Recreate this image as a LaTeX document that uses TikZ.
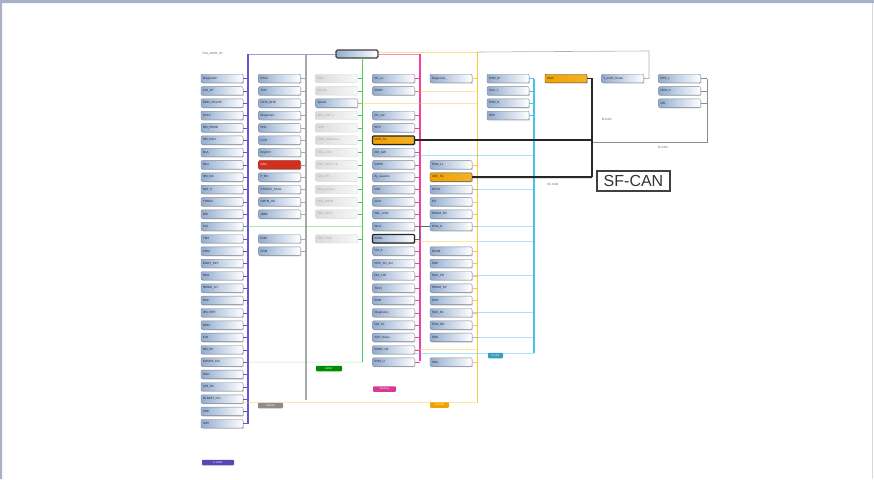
\documentclass[tikz,border=0pt]{standalone}
\usepackage{fontspec}
\setmainfont{Liberation Sans}
\usetikzlibrary{shadows}

\definecolor{steel}{HTML}{93ACD0}
\definecolor{ecuedge}{HTML}{7A8699}
\definecolor{framec}{HTML}{A9B1C9}
\definecolor{kcanp}{HTML}{6B52D6}
\definecolor{ptgray}{HTML}{A8A8A8}
\definecolor{mostg}{HTML}{50C860}
\definecolor{flexp}{HTML}{F040A0}
\definecolor{ptyel}{HTML}{F8C840}
\definecolor{kblue}{HTML}{48C0F0}
\definecolor{hot}{HTML}{F2A200}
\definecolor{canred}{HTML}{D03020}

\tikzset{
  ecubox/.style={rounded corners=1pt, minimum width=42pt, minimum height=8.5pt,
    inner sep=0pt, text width=38pt, align=left, font=\fontsize{3}{3.5}\selectfont},
  ecu/.style={ecubox, draw=ecuedge, left color=steel, right color=white, text=black!85,
    drop shadow={shadow xshift=0.9pt, shadow yshift=-0.9pt, opacity=.4}},
  ecuoff/.style={ecubox, draw=black!15, left color=black!14, right color=black!3, text=black!35},
  ecuhot/.style={ecu, left color=hot, right color=hot!85!white, draw=black!70},
  ecured/.style={ecu, left color=canred, right color=canred, draw=canred!80!black, text=white},
  ecubold/.style={line width=1.2pt, draw=black!85},
  gway/.style={draw=black!75, line width=1.2pt, rounded corners=1.5pt, left color=steel,
    right color=white, minimum width=42pt, minimum height=8pt, inner sep=0pt},
  buslab/.style={rounded corners=0.8pt, inner sep=0pt, minimum height=5.5pt,
    font=\fontsize{2.5}{3}\selectfont, text=white},
  tiny/.style={font=\fontsize{3}{3.5}\selectfont, text=black!60, inner sep=0pt, anchor=west},
  tick/.style={line width=0.5pt},
  bus/.style={line width=1.2pt},
  cross/.style={line width=0.6pt, opacity=.45},
  sfbus/.style={line width=1.8pt, draw=black!85}
}

\begin{document}
\begin{tikzpicture}[x=1pt, y=-1pt]
  \useasboundingbox (0,0) rectangle (874,479);
  \fill[white] (0,0) rectangle (874,479);
  \fill[framec] (0,0) rectangle (874,3)
                (0,0) rectangle (2,479);
  \draw[black!15, line width=0.8pt] (872.5,3) -- (872.5,479);

  % gateway and bus end points
  \path node (gw) at (357,54) [gway] {};
  \coordinate (Ptop) at (248,54);   \coordinate (Pbot) at (248,423.7);
  \coordinate (Gtop) at (306,55);   \coordinate (Gbot) at (306,400);
  \coordinate (Mtop) at (362.5,58); \coordinate (Mbot) at (362.5,362.1);
  \coordinate (Ftop) at (420,54);   \coordinate (Fbot) at (420,361);
  \coordinate (Ytop) at (477.5,52); \coordinate (Ybot) at (477.5,402);
  \coordinate (Ktop) at (534,79);   \coordinate (Kbot) at (534,353);
  \coordinate (Jbot) at (592,177.1);
  \coordinate (Dtop) at (707,78.5); \coordinate (Dbot) at (707,142);
  \coordinate (Tc)   at (649,51);

  % K-CAN column
  \foreach \r/\t in {0/Diagnostic, 1/CID\_RT, 2/RMD\_CDLHR, 3/DXC2, 4/BM\_PDMD, 5/DM\_RAH,
      6/BLA, 7/BA4, 8/DM\_RA, 9/BAT\_3, 10/TRDU2, 11/BHI, 12/CIU, 13/TM4, 14/CRM,
      15/EGBT\_HP1, 16/BM4, 17/RMSM\_LH, 18/RSC, 19/DM\_EPH, 20/BNM, 21/CID, 22/DM\_RF,
      23/CHMP2\_CIC, 24/HUD, 25/CID\_R2, 26/DLGMH\_CIC, 27/ZHE, 28/SWI}
    \path node (p\r) at (222,{78.5+12.33*\r}) [ecu] {\t};

  % radar column
  \foreach \r/\t in {0/ESC1, 1/TCB, 2/CATA\_BHE, 3/Diagnostic, 4/PDC, 5/CVM, 6/EngCtrl,
      8/P\_BS, 9/CTMCIC\_SCUL, 10/GRTM\_HA, 11/JBBF, 13/EJBI, 14/CDM}
    \path node (g\r) at (279.5,{78.5+12.33*\r}) [ecu] {\t};
  \path node (g7) at (279.5,{78.5+12.33*7}) [ecured] {CAN};

  % MOST column
  \foreach \r/\t in {0/ESC, 1/SCCM, 3/SKT\_TOP\_2, 4/TCM, 5/SDM\_StarterAut, 6/SCL\_LHD,
      7/SCL\_SCLT\_TR, 8/SCL\_RT1, 9/Diag\_Access, 10/SCL\_DATM, 11/SCL\_SCLF, 13/SWT\_TOP}
    \path node (m\r) at (336.5,{78.5+12.33*\r}) [ecuoff] {\t};
  \path node (m2) at (336.5,{78.5+12.33*2}) [ecu] {Sports};

  % FlexRay column
  \foreach \r/\t in {0/RC\_LL, 1/EMR2, 3/RC\_LW, 4/BPS, 6/RM\_GW, 7/GHPE, 8/Bj\_casecho,
      9/CWI, 10/GCS, 11/SEL\_LCW, 12/WLA, 14/PM\_A, 15/CDC\_SH\_AU, 16/RM\_LTR, 17/SDV1,
      18/EMR, 19/Diagnostic\_, 20/RM\_HL, 21/SCP\_Slave, 22/EMR2\_UE, 23/ESM\_U}
    \path node (f\r) at (393.5,{78.5+12.33*\r}) [ecu] {\t};
  \path node (f5)  at (393.5,{78.5+12.33*5})  [ecuhot, ecubold] {CDE\_GL}
        node (f13) at (393.5,{78.5+12.33*13}) [ecu, ecubold] {EMR1};

  % PT-CAN column
  \foreach \r/\t in {0/Diagnosis\_, 7/ESM\_LL, 9/DSVG, 10/EIT, 11/RMSM\_FR, 12/ESM\_N,
      14/ELDM, 15/EMF, 16/EGS\_FR, 17/RMSM\_SF, 18/ECR, 19/EGS\_RL, 20/ESM\_RR, 21/ERG, 23/SDU}
    \path node (y\r) at (451,{78.5+12.33*\r}) [ecu] {\t};
  \path node (y8) at (451,{78.5+12.33*8}) [ecuhot] {LWF\_HL};

  % K-CAN column, right
  \foreach \r/\t in {0/ESM\_DI, 1/SCU\_1, 2/ESM\_N, 3/EKP}
    \path node (k\r) at (508,{78.5+12.33*\r}) [ecu] {\t};

  % SF-CAN and D-CAN
  \path node (h) at (566,78.5) [ecuhot] {HGB}
        node (t) at (622.5,78.5) [ecu] {S\_CAN\_Tester};
  \foreach \r/\t in {0/DRF\_L, 1/DRR\_R, 2/CBI}
    \path node (d\r) at (679.5,{78.5+12.33*\r}) [ecu] {\t};

  % buses
  \draw[kcanp, line width=0.7pt, opacity=.6] (gw.west) -- (Ptop);
  \draw[kcanp, line width=1.6pt] (Ptop) -- (Pbot);
  \draw[ptgray, bus] (Gtop) -- (Gbot);
  \draw[mostg, bus] (Mtop) -- (Mbot);
  \draw[flexp, line width=0.7pt, opacity=.6] (gw.east) -- (Ftop);
  \draw[flexp, bus] (Ftop) -- (Fbot);
  \draw[ptyel, line width=0.7pt, opacity=.6] ([yshift=2pt]gw.east) -- (Ytop);
  \draw[ptyel, bus] (Ytop) -- (Ybot);
  \draw[ptyel, cross] (Ybot) -- (Ybot -| p26.east);
  \draw[kblue, bus] (Ktop) -- (Kbot);
  \draw[kblue, cross] (Kbot) -- (Kbot -| f22.east);
  \draw[black!30, line width=0.6pt] (Ytop) -- (Tc) |- (t.east);
  \draw[black!45, line width=0.6pt] (Dtop) -- (Dbot) -- (Dbot -| Jbot);

  % stubs
  \foreach \r in {0,...,28} \draw[kcanp, tick] (p\r.east) -- (p\r.east -| Ptop);
  \foreach \r in {0,...,11,13,14} \draw[ptgray, tick] (g\r.east) -- (g\r.east -| Gtop);
  \foreach \r in {0,...,11,13} \draw[mostg, tick] (m\r.east) -- (m\r.east -| Mtop);
  \foreach \r in {0,1,3,4,...,23} \draw[flexp, tick] (f\r.east) -- (f\r.east -| Ftop);
  \foreach \r in {0,7,8,...,12,14,15,...,21,23} \draw[ptyel, tick] (y\r.east) -- (y\r.east -| Ytop);
  \foreach \r in {0,...,3} \draw[kblue, tick] (k\r.east) -- (k\r.east -| Ktop);
  \foreach \r in {0,1,2} \draw[black!45, tick] (d\r.east) -- (d\r.east -| Dtop);

  % links across buses
  \draw[mostg, cross] (p12.east) -- (p12.east -| Mbot);
  \draw[mostg, cross] (p23.east) -- (Mbot);
  \draw[ptyel, cross] (m2.east) -- (m2.east -| Ytop);
  \draw[ptyel, cross] (f1.east) -- (f1.east -| Ytop);
  \draw[ptyel, cross] ([yshift=-3pt]f13.east) -- ([yshift=-3pt]f13.east -| Ytop);
  \draw[kblue, cross] ([yshift=-3pt]f13.east -| Ytop) -- ([yshift=-3pt]f13.east -| Ktop);
  \draw[ptyel, cross] (f22.east) -- (f22.east -| Ytop);
  \draw[black!60, line width=0.5pt] (f13.east) -- ++(4,0) |- (y12.west);
  \draw[kblue, cross] ([yshift=-3pt]f6.east) -- ([yshift=-3pt]f6.east -| Ktop);
  \foreach \r in {9,12,16,19,21} \draw[kblue, cross] (y\r.east) -- (y\r.east -| Ktop);

  % SF-CAN
  \draw[sfbus] (h.east) -| (Jbot);
  \draw[sfbus] (f5.east) -- (f5.east -| Jbot);
  \draw[sfbus] (y8.east) -- (Jbot);
  \path node (sf) at (633.5,181) [draw=black!75, line width=1.1pt, minimum width=73pt,
        minimum height=20pt, inner sep=0pt, font=\fontsize{16}{16}\selectfont, text=black!80] {SF-CAN};

  % bus names
  \path node (lp) at (218,462.5) [buslab, fill=kcanp!85!black, minimum width=32pt] {K-CAN2}
        node (lg) at (270.5,405.5) [buslab, fill=black!45, minimum width=25pt] {RADAR}
        node (lm) at (329,368.5) [buslab, fill=green!55!black, minimum width=26pt] {MOST}
        node (lf) at (384.5,389) [buslab, fill=flexp!90!black, minimum width=23pt] {FlexRay}
        node (ly) at (439.5,405) [buslab, fill=hot, minimum width=19pt] {PT-CAN}
        node (lk) at (495.5,355.5) [buslab, fill=kblue!80!black, minimum width=15pt] {K-CAN};
  \path node (ta) at (202,54) [tiny] {TKA\_ABS6\_1E}
        node (tb) at (602,119) [tiny] {B-CAN}
        node (td) at (658,147) [tiny] {D-CAN}
        node (ts) at (547,184) [tiny] {SF-CAN};
\end{tikzpicture}
\end{document}
